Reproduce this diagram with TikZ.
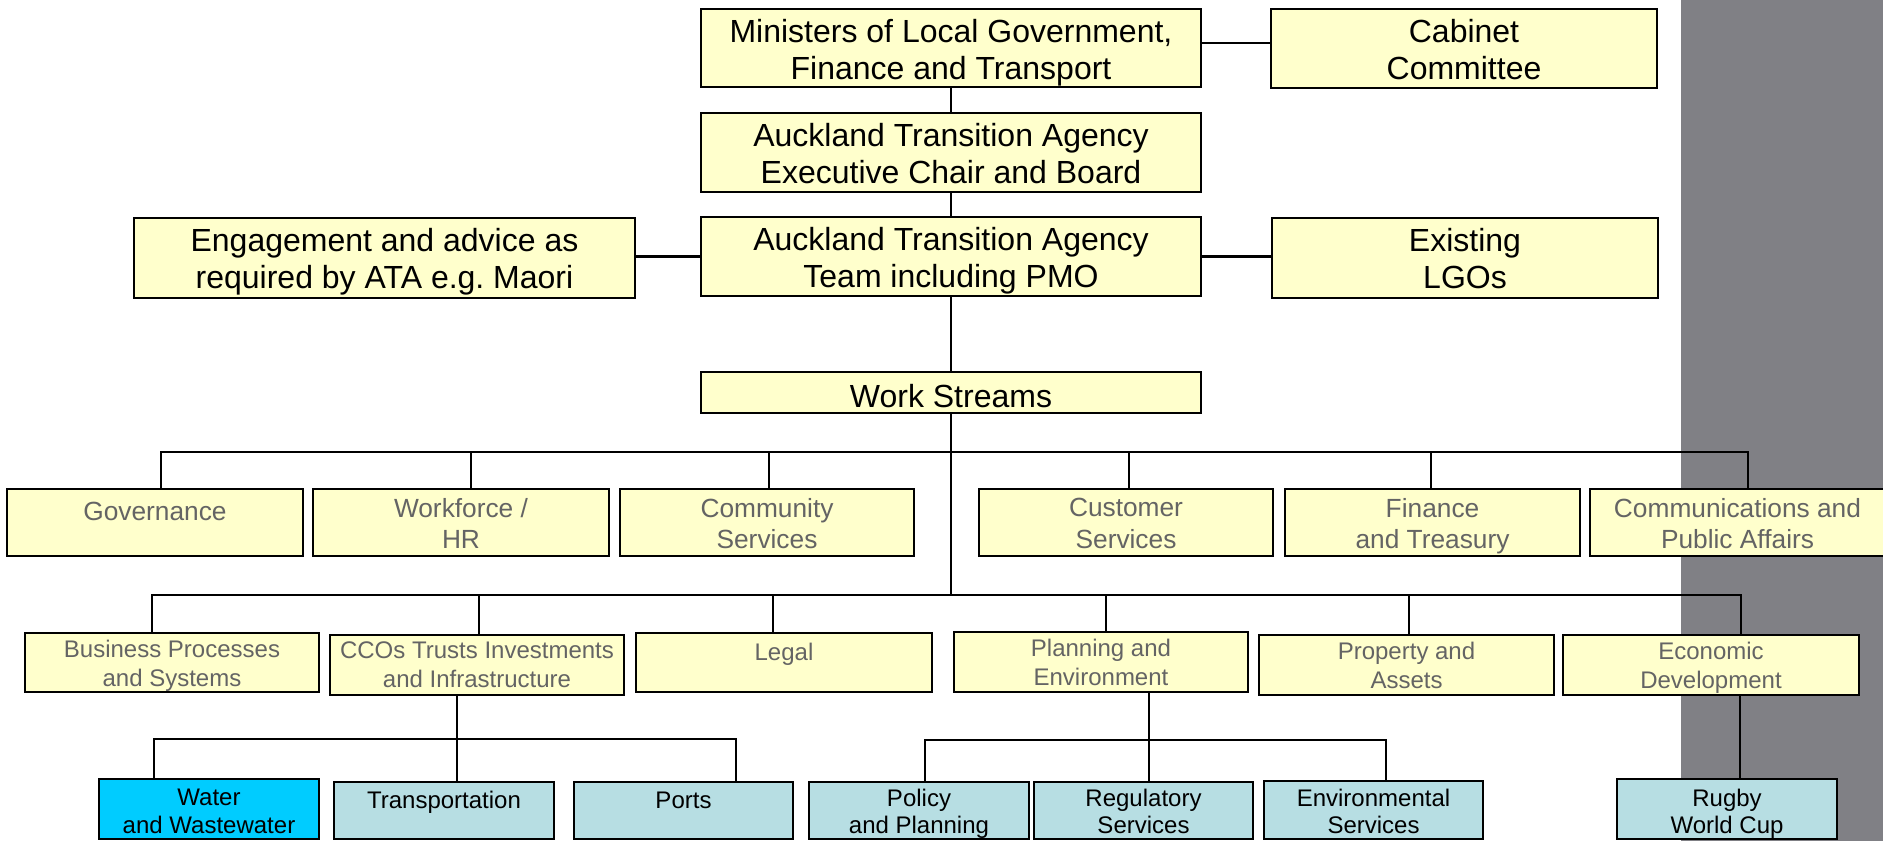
\documentclass[tikz,border=0pt]{standalone}
\usepackage{fontspec}
\setmainfont{Liberation Sans}
\usetikzlibrary{fit,backgrounds}
\frenchspacing

\definecolor{boxyellow}{HTML}{FFFFCC}
\definecolor{boxteal}{HTML}{B7DEE3}
\definecolor{boxcyan}{HTML}{00CCFF}
\definecolor{sidegray}{HTML}{808085}
\definecolor{labelgray}{HTML}{646464}

\tikzset{
  orgbox/.style={draw=black, line width=2.6pt, inner sep=0pt, outer sep=0pt, rectangle},
  ybox/.style={orgbox, fill=boxyellow},
  tbox/.style={orgbox, fill=boxteal},
  cbox/.style={orgbox, fill=boxcyan},
  lab/.style={anchor=north, inner sep=0pt, outer sep=0pt, align=center, execute at begin node=\strut},
  toplab/.style={lab, font=\fontsize{32}{37}\selectfont},
  rowonelab/.style={lab, text=labelgray, font=\fontsize{26.3}{31.5}\selectfont},
  rowtwolab/.style={lab, text=labelgray, font=\fontsize{24}{29}\selectfont},
  rowthreelab/.style={lab, font=\fontsize{24}{27.5}\selectfont},
  link/.style={draw=black, line width=2.2pt},
}

\begin{document}
\begin{tikzpicture}[x=1pt, y=-1pt]
\useasboundingbox (0,0) rectangle (1883,841);

% ---------- governance chain ----------
\node[ybox, fit={(701,9) (1201,87)}]    (min)  {};
\node[ybox, fit={(1271,9) (1657,88)}]   (cab)  {};
\node[ybox, fit={(701,113) (1201,192)}] (exec) {};
\node[ybox, fit={(701,217) (1201,296)}] (team) {};
\node[ybox, fit={(134,218) (635,298)}]  (eng)  {};
\node[ybox, fit={(1272,218) (1658,298)}] (lgo) {};
\node[ybox, fit={(701,372) (1201,413)}] (ws)   {};

\node[toplab] (min-t)  at ([yshift=-10.4pt]min.north)  {Ministers of Local Government,\\Finance and Transport};
\node[toplab] (cab-t)  at ([yshift=-10.4pt]cab.north)  {Cabinet\\Committee};
\node[toplab] (exec-t) at ([yshift=-10.4pt]exec.north) {Auckland Transition Agency\\Executive Chair and Board};
\node[toplab] (team-t) at ([yshift=-10.4pt]team.north) {Auckland Transition Agency\\Team including PMO};
\node[toplab] (eng-t)  at ([yshift=-10.4pt]eng.north)  {Engagement and advice as\\required by ATA e.g. Maori};
\node[toplab] (lgo-t)  at ([yshift=-10.4pt]lgo.north)  {Existing\\LGOs};
\node[toplab] (ws-t)   at ([yshift=-9.6pt]ws.north)   {Work Streams};

% ---------- first row of work streams ----------
\node[ybox, fit={(7,489) (303,556)}]     (gov) {};
\node[ybox, fit={(313,489) (609,556)}]   (wf)  {};
\node[ybox, fit={(620,489) (914,556)}]   (com) {};
\node[ybox, fit={(979,489) (1273,556)}]  (cus) {};
\node[ybox, fit={(1285,489) (1580,556)}] (fin) {};
\node[ybox, fit={(1590,489) (1885,556)}] (cpa) {};

\node[rowonelab] (gov-t) at ([yshift=-9.4pt]gov.north) {Governance};
\node[rowonelab] (wf-t)  at ([yshift=-9.4pt]wf.north)  {Workforce /\\HR};
\node[rowonelab] (com-t) at ([yshift=-9.4pt]com.north) {Community\\Services};
\node[rowonelab] (cus-t) at ([yshift=-9.4pt]cus.north) {Customer\\Services};
\node[rowonelab] (fin-t) at ([yshift=-9.4pt]fin.north) {Finance\\and Treasury};
\node[rowonelab] (cpa-t) at ([yshift=-9.4pt]cpa.north) {Communications and\\Public Affairs};

% ---------- second row of work streams ----------
\node[ybox, fit={(25,633) (319,692)}]    (bps) {};
\node[ybox, fit={(330,635) (624,695)}]   (cco) {};
\node[ybox, fit={(636,633) (932,692)}]   (leg) {};
\node[ybox, fit={(954,632) (1248,692)}]  (pe)  {};
\node[ybox, fit={(1259,635) (1554,695)}] (pa)  {};
\node[ybox, fit={(1563,635) (1859,695)}] (ed)  {};

\node[rowtwolab] (bps-t) at ([yshift=-6.7pt]bps.north) {Business Processes\\and Systems};
\node[rowtwolab] (cco-t) at ([yshift=-6.7pt]cco.north) {CCOs Trusts Investments\\and Infrastructure};
\node[rowtwolab] (leg-t) at ([yshift=-6.7pt]leg.north) {Legal};
\node[rowtwolab] (pe-t)  at ([yshift=-6.7pt]pe.north)  {Planning and\\Environment};
\node[rowtwolab] (pa-t)  at ([yshift=-6.7pt]pa.north)  {Property and\\Assets};
\node[rowtwolab] (ed-t)  at ([yshift=-6.7pt]ed.north)  {Economic\\Development};

% ---------- third row ----------
\node[cbox, fit={(99,779) (319,839)}]    (ww)  {};
\node[tbox, fit={(334,782) (554,839)}]   (tr)  {};
\node[tbox, fit={(574,782) (793,839)}]   (po)  {};
\node[tbox, fit={(809,782) (1029,839)}]  (pp)  {};
\node[tbox, fit={(1034,782) (1253,839)}] (rs)  {};
\node[tbox, fit={(1264,781) (1483,839)}] (es)  {};
\node[tbox, fit={(1617,779) (1837,839)}] (rwc) {};

% all third-row labels share one text line, hung from the top of the first box
\node[rowthreelab] (ww-t)  at ([yshift=-10pt]ww.north)             {Water\\and Wastewater};
\node[rowthreelab] (tr-t)  at ([yshift=-10pt]ww.north -| tr.north)  {Transportation};
\node[rowthreelab] (po-t)  at ([yshift=-10pt]ww.north -| po.north)  {Ports};
\node[rowthreelab] (pp-t)  at ([yshift=-10pt]ww.north -| pp.north)  {Policy\\and Planning};
\node[rowthreelab] (rs-t)  at ([yshift=-10pt]ww.north -| rs.north)  {Regulatory\\Services};
\node[rowthreelab] (es-t)  at ([yshift=-10pt]ww.north -| es.north)  {Environmental\\Services};
\node[rowthreelab] (rwc-t) at ([yshift=-10pt]ww.north -| rwc.north) {Rugby\\World Cup};

% ---------- bus and drop positions ----------
\coordinate (dgov) at (161,452);
\coordinate (dwf)  at (471,452);
\coordinate (dcom) at (769,452);
\coordinate (dcus) at (1129,452);
\coordinate (dfin) at (1431,452);
\coordinate (dcpa) at (1748,452);

\coordinate (dbps) at (152,595);
\coordinate (dcco) at (479,595);
\coordinate (dleg) at (773,595);
\coordinate (dpe)  at (1106,595);
\coordinate (dpa)  at (1409,595);
\coordinate (ded)  at (1741,595);

\coordinate (ccl) at (154,739);
\coordinate (ccr) at (736,739);
\coordinate (ccx) at (457,739);
\coordinate (pel) at (925,740);
\coordinate (per) at (1386,740);
\coordinate (pex) at (1149,740);
\coordinate (edx) at (1740,700);

\begin{scope}[on background layer]
  % grey side band
  \fill[sidegray] (1681,0) rectangle (1883,841);

  % chain of command
  \draw[link] ([yshift=5pt]min.east) -- ([yshift=5pt]min.east -| cab.west);
  \draw[link] (min.south) -- (exec.north);
  \draw[link] (exec.south) -- (team.north);
  \draw[link] (team.west) -- (team.west -| eng.east);
  \draw[link] (team.east) -- (team.east -| lgo.west);
  \draw[link] (team.south) -- (ws.north);
  \draw[link] (ws.south) -- (ws.south |- dbps);

  % first bus
  \draw[link] (dgov |- gov.north) -- (dgov) -- (dcpa) -- (dcpa |- cpa.north);
  \foreach \n in {wf, com, cus, fin}
    \draw[link] (d\n) -- (d\n |- \n.north);

  % second bus
  \draw[link] (dbps |- bps.north) -- (dbps) -- (ded) -- (ded |- ed.north);
  \foreach \n in {cco, leg, pe, pa}
    \draw[link] (d\n) -- (d\n |- \n.north);

  % CCO branch
  \draw[link] (ccx |- cco.south) -- (ccx |- tr.north);
  \draw[link] (ccl |- ww.north) -- (ccl) -- (ccr) -- (ccr |- po.north);

  % planning branch
  \draw[link] (pex |- pe.south) -- (pex |- rs.north);
  \draw[link] (pel |- pp.north) -- (pel) -- (per) -- (per |- es.north);

  % economic development branch
  \draw[link] (edx |- ed.south) -- (edx |- rwc.north);
\end{scope}
\end{tikzpicture}
\end{document}
